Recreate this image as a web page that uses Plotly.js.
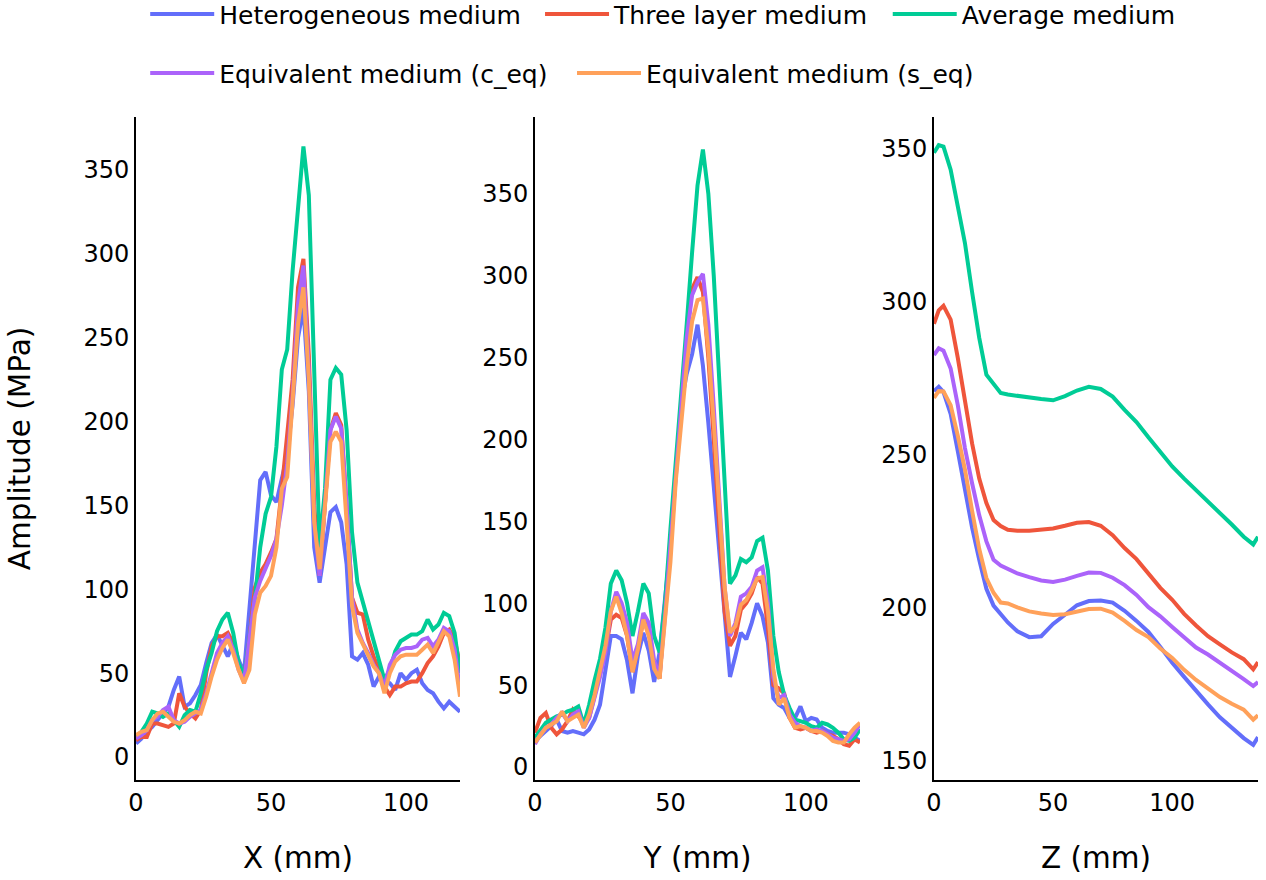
<!DOCTYPE html>
<html>
<head>
<meta charset="utf-8">
<script src="https://cdn.plot.ly/plotly-3.0.1.min.js"></script>
<style>html,body{margin:0;padding:0;background:#fff;}</style>
</head>
<body>
<div id="chart" style="width:1266px;height:880px;"></div>
<script>
// ---- Series names and colours ----
const seriesNames = ["Heterogeneous medium", "Three layer medium", "Average medium", "Equivalent medium (c_eq)", "Equivalent medium (s_eq)"];
const seriesColors = ["#636efa", "#EF553B", "#00cc96", "#ab63fa", "#FFA15A"];

// ---- X profile (mm) ----
const xPos = [0,2,4,6,8,10,12,14,16,18,20,22,24,26,28,30,32,34,36,38,40,42,44,46,48,50,52,54,56,58,60,62,64,66,68,70,72,74,76,78,80,82,84,86,88,90,92,94,96,98,100,102,104,106,108,110,112,114,116,118,120];
const hetX   = [8,11,15,18,22,26,30,40,48,30, 32,37,43,56,68,73,66,60,68,58, 50,90,130,165,170,156,152,165,180,210, 250,268,218,125,104,125,146,149,140,115, 60,58,62,55,42,48,46,44,40,50, 46,50,52,44,40,38,33,29,33,30, 27];
const threeX = [10,12,12,20,20,19,18,20,38,30, 26,23,28,50,66,72,72,74,68,55, 46,70,101,110,115,122,130,160,190,225, 280,297,240,150,108,150,195,205,198,150, 95,86,85,70,60,52,42,37,42,42, 44,45,45,50,56,60,66,74,76,70, 55];
const avgX   = [12,15,20,27,26,24,26,22,18,25, 28,27,38,52,62,75,82,86,74,56, 48,70,94,125,145,155,185,231,243,290, 330,364,335,220,125,160,225,232,228,195, 134,104,92,80,68,58,46,52,63,69, 71,73,73,75,82,76,79,86,84,74, 50];
const ceqX   = [11,13,16,22,24,28,30,22,20,21, 24,26,28,38,50,62,68,72,64,52, 45,70,95,105,112,120,130,150,175,215, 270,293,230,140,108,150,195,203,196,150, 95,76,68,62,55,50,42,55,61,64, 65,65,66,70,71,66,70,77,75,64, 40];
const seqX   = [13,15,16,22,26,27,24,21,20,22, 25,27,26,36,48,58,65,70,62,52, 44,52,85,98,102,108,125,160,167,212, 258,280,225,140,112,150,188,194,188,140, 90,74,67,60,54,50,38,50,57,60, 61,61,61,64,67,62,68,75,72,58, 36];

// ---- Y profile (mm) ----
const yPos = [0,2,4,6,8,10,12,14,16,18,20,22,24,26,28,30,32,34,36,38,40,42,44,46,48,50,52,54,56,58,60,62,64,66,68,70,72,74,76,78,80,82,84,86,88,90,92,94,96,98,100,102,104,106,108,110,112,114,116,118,120];
const hetY   = [16,19,22,25,29,22,21,22,21,20, 23,29,38,60,80,80,78,65,45,68, 82,71,52,70,102,135,180,222,240,252, 270,245,210,170,130,90,55,68,82,78, 88,100,92,76,42,38,36,30,30,37, 28,30,29,24,22,21,21,21,20,18, 16];
const threeY = [21,30,33,24,20,23,28,35,31,26, 30,44,58,71,90,93,91,80,58,72, 90,85,62,54,98,135,180,225,262,292, 299,290,250,200,145,95,74,80,96,100, 106,116,112,85,50,48,45,30,24,23, 24,22,21,22,20,19,17,14,13,17, 15];
const avgY   = [18,23,27,29,31,32,34,35,37,26, 38,53,66,85,112,120,114,100,80,95, 112,106,80,70,100,145,185,228,270,314, 355,377,350,300,240,170,112,117,127,125, 128,138,140,120,80,58,44,36,29,28, 27,25,24,27,26,24,21,17,16,18, 23];
const ceqY   = [14,20,24,26,30,33,28,32,34,24, 30,42,55,70,95,107,100,88,65,75, 94,88,65,56,92,135,180,225,262,288, 296,301,270,220,165,110,80,88,104,106, 110,120,122,100,55,42,44,32,27,25, 24,22,23,22,20,18,17,16,17,21, 26];
const seqY   = [15,20,24,26,28,34,28,30,32,24, 32,44,58,74,95,104,94,80,58,72, 90,80,60,54,90,125,175,210,245,272, 285,286,255,210,160,110,82,86,99,102, 108,115,116,95,60,38,42,30,24,25, 24,22,22,21,19,16,15,15,20,24, 27];

// ---- Z profile (mm) ----
const zPos   = [0,2,4,7,10,13,16,19,22,25,28,31,35,40,45,50,55,60,65,70,75,80,85,90,95,100,105,110,115,120,125,130,134,136];
const hetZ   = [270.6,272,270.3,263.2,251,238,226,215.5,206,200.5,197.8,195,192.1,190.2,190.5,194.5,197.5,200.6,202,202.2,201.5,198.8,195.5,191.9,187,181.8,177.2,172.6,168.2,164,160.5,157.2,155,157.5];
const threeZ = [292.6,297,298.5,294,281.5,267,253.5,242,234,228.5,226.5,225.3,225,225,225.2,225.7,226.6,227.6,227.8,226.6,223.5,219.3,215.7,211,206.3,202.4,197.8,194,190.5,187.8,185.2,183,179.7,182];
const avgZ   = [348.5,351,350.5,343,331,319,303,288,276,273,270,269.5,269,268.5,268,267.6,269,270.8,272,271.3,268.8,264.5,260.5,255.5,250.5,246,242,238.3,234.5,230.8,227,223,220.5,223];
const ceqZ   = [282.4,284.6,283.8,278,266,252,240.5,230,221.5,215.5,213.6,212.4,211,209.8,208.7,208.2,209,210.2,211.3,211.2,209.6,207.2,204,200,197,193.5,190,186.8,184.5,181.9,179.3,176.5,174.2,175.5];
const seqZ   = [268.4,270.6,270.5,266,256,245,231.5,219,209.5,204.7,201.5,201.2,199.9,198.6,197.9,197.4,197.7,198.5,199.4,199.5,198.2,195.5,192.5,190.2,186.5,183.4,179.5,176.2,173.2,170.6,168.4,166.5,163.2,164.7];

// ---- Axis labels ----
const xTitles = ["X (mm)", "Y (mm)", "Z (mm)"];
const yTitle = "Amplitude (MPa)";

const legendIds = ["legend", "legend2", "legend3", "legend4", "legend5"];

const panels = [
  {pos: xPos, data: [hetX, threeX, avgX, ceqX, seqX], xa: "x",  ya: "y"},
  {pos: yPos, data: [hetY, threeY, avgY, ceqY, seqY], xa: "x2", ya: "y2"},
  {pos: zPos, data: [hetZ, threeZ, avgZ, ceqZ, seqZ], xa: "x3", ya: "y3"}
];

const traces = [];
panels.forEach((p, pi) => {
  p.data.forEach((vals, si) => {
    traces.push({
      type: "scatter", mode: "lines",
      x: p.pos, y: vals,
      xaxis: p.xa, yaxis: p.ya,
      name: seriesNames[si],
      legendgroup: seriesNames[si],
      showlegend: pi === 0,
      legend: legendIds[si],
      line: {color: seriesColors[si], width: 4}
    });
  });
});

const FONT = "DejaVu Sans, Verdana, sans-serif";
function xAxis(domain, range, title, anchor) {
  return {
    domain: domain, range: range, anchor: anchor,
    showgrid: false, zeroline: false, showline: true, linecolor: "#000", linewidth: 2,
    ticks: "", tickvals: [0, 50, 100],
    tickfont: {size: 24, color: "#000", family: FONT},
    title: {text: title, font: {size: 29.5, color: "#000", family: FONT}, standoff: 32}
  };
}
function yAxis(range, tickvals, anchor, title) {
  const a = {
    domain: [0, 1], range: range, anchor: anchor,
    showgrid: false, zeroline: false, showline: true, linecolor: "#000", linewidth: 2,
    ticks: "", tickvals: tickvals,
    tickfont: {size: 24, color: "#000", family: FONT}
  };
  if (title) a.title = {text: title, font: {size: 29.5, color: "#000", family: FONT}, standoff: 44};
  return a;
}
function legendAt(x, y) {
  return {orientation: "h", x: x, xanchor: "left", y: y, yanchor: "middle",
          font: {size: 25, family: FONT, color: "#000"}, itemwidth: 64, bgcolor: "rgba(0,0,0,0)"};
}

const layout = {
  width: 1266, height: 880,
  margin: {l: 136, r: 8, t: 117, b: 100, autoexpand: false},
  paper_bgcolor: "#fff", plot_bgcolor: "#fff",
  font: {family: FONT, color: "#000", size: 24},
  showlegend: true,
  legend:  legendAt(0.0082, 1.155),
  legend2: legendAt(0.3601, 1.155),
  legend3: legendAt(0.6700, 1.155),
  legend4: legendAt(0.0082, 1.066),
  legend5: legendAt(0.3886, 1.066),
  xaxis:  xAxis([0, 0.2888], [0, 120], xTitles[0], "y"),
  xaxis2: xAxis([0.3556, 0.6453], [0, 120], xTitles[1], "y2"),
  xaxis3: xAxis([0.7112, 1.0], [0, 136], xTitles[2], "y3"),
  yaxis:  yAxis([-13.7, 381.6], [0,50,100,150,200,250,300,350], "x", yTitle),
  yaxis2: yAxis([-7.9, 396.8], [0,50,100,150,200,250,300,350], "x2"),
  yaxis3: yAxis([143.5, 360.2], [150,200,250,300,350], "x3")
};

Plotly.newPlot("chart", traces, layout, {displayModeBar: false, staticPlot: true});
</script>
</body>
</html>
